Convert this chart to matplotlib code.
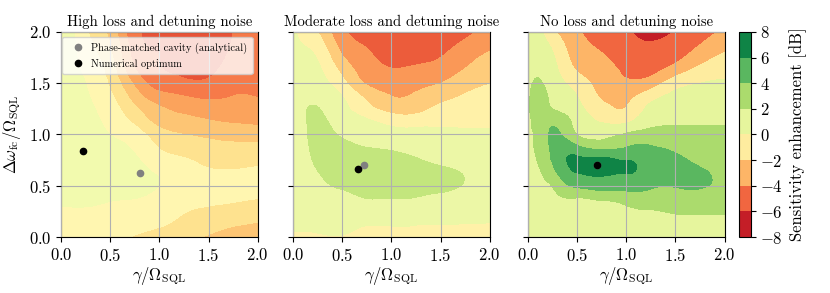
import numpy as np
import matplotlib
matplotlib.use("Agg")
import matplotlib.pyplot as plt
import matplotlib.tri as mtri
from matplotlib.colors import Normalize

plt.rcParams.update({
    "font.family": "serif",
    "font.serif": ["cmr10"],
    "mathtext.fontset": "cm",
    "axes.formatter.use_mathtext": True,
    "axes.unicode_minus": True,
    "font.size": 12,
})

# grid of the scan (gamma / Omega_SQL on x, detuning / Omega_SQL on y)
gamma = [0.0, 0.125, 0.25, 0.5, 0.75, 1.0, 1.25, 1.5, 1.75, 2.0]
detuning = [0.0, 0.125, 0.25, 0.375, 0.5, 0.625, 0.75, 0.875, 1.0,
            1.125, 1.25, 1.375, 1.5, 1.625, 1.75, 1.875, 2.0]

# sensitivity enhancement [dB], one list per gamma column (bottom -> top)
enh_high = [
    [-0.6, -0.4, -0.1, 0.15, 0.3, 0.4, 0.45, 0.5, 0.5, 0.5, 0.45, 0.4, 0.4, 0.35, 0.3, 0.25, 0.2],
    [-0.6, -0.4, -0.1, 0.15, 0.3, 0.45, 0.5, 0.5, 0.5, 0.45, 0.4, 0.35, 0.3, 0.2, 0.15, 0.1, 0.05],
    [-0.65, -0.4, -0.1, 0.15, 0.3, 0.45, 0.5, 0.45, 0.4, 0.3, 0.2, 0.1, 0.0, -0.2, -0.4, -0.6, -0.85],
    [-0.8, -0.5, -0.2, 0.05, 0.25, 0.35, 0.35, 0.2, 0.0, -0.25, -0.5, -0.8, -1.15, -1.45, -1.75, -2.0, -2.3],
    [-1.05, -0.7, -0.3, 0.0, 0.2, 0.25, 0.15, -0.15, -0.5, -1.2, -1.8, -2.5, -3.2, -3.9, -4.3, -4.55, -4.7],
    [-1.3, -0.9, -0.5, -0.2, -0.02, -0.1, -0.6, -1.05, -1.6, -2.3, -2.85, -3.65, -4.5, -4.95, -5.0, -5.05, -5.1],
    [-1.6, -1.25, -0.95, -0.6, -0.4, -0.5, -0.9, -1.45, -2.0, -2.6, -3.3, -4.0, -4.8, -5.15, -5.4, -5.6, -5.7],
    [-2.1, -1.6, -1.15, -0.8, -0.6, -0.85, -1.25, -1.7, -2.2, -2.9, -3.5, -4.2, -4.85, -5.15, -5.35, -5.5, -5.5],
    [-2.4, -1.9, -1.3, -0.9, -0.7, -0.9, -1.3, -1.75, -2.4, -3.1, -3.7, -4.0, -4.4, -4.7, -4.85, -4.95, -5.0],
    [-2.7, -2.1, -1.5, -1.0, -0.75, -0.85, -1.2, -1.7, -2.5, -3.2, -3.6, -4.05, -4.3, -4.5, -4.6, -4.7, -4.75],
]
enh_moderate = [
    [-0.3, 0.3, 0.6, 0.8, 0.9, 1.0, 1.0, 1.05, 1.1, 1.1, 1.05, 0.95, 0.85, 0.7, 0.5, 0.3, 0.15],
    [-0.3, 0.3, 0.6, 0.85, 1.0, 1.15, 1.25, 1.35, 1.4, 1.45, 1.45, 1.25, 1.0, 0.7, 0.35, -0.05, -0.5],
    [-0.2, 0.4, 0.8, 1.05, 1.2, 1.45, 1.7, 1.8, 1.8, 1.7, 1.55, 1.1, 0.65, 0.3, -0.1, -0.7, -1.55],
    [-0.1, 0.5, 0.95, 1.25, 1.65, 2.1, 2.2, 1.9, 1.35, 0.9, 0.45, 0.0, -1.0, -1.9, -2.8, -3.6, -4.2],
    [-0.4, 0.1, 1.0, 1.5, 2.0, 2.3, 2.2, 1.5, 0.9, 0.3, -1.0, -1.9, -3.2, -3.8, -4.2, -4.6, -5.0],
    [-0.45, 0.1, 0.9, 1.5, 1.95, 2.2, 2.0, 1.3, 0.6, -0.5, -2.0, -3.0, -3.7, -4.4, -4.9, -5.3, -5.6],
    [-0.5, 0.05, 0.85, 1.45, 1.85, 1.95, 1.6, 1.1, 0.5, -0.6, -2.0, -2.8, -3.5, -4.2, -4.9, -5.4, -5.8],
    [-0.55, 0.0, 0.8, 1.3, 1.7, 1.7, 1.3, 0.9, 0.4, -0.4, -1.2, -2.0, -3.0, -3.8, -4.5, -5.0, -5.3],
    [-0.6, -0.02, 0.7, 1.2, 1.45, 1.45, 1.2, 0.85, 0.35, -0.35, -0.9, -1.4, -2.1, -2.9, -3.5, -4.2, -4.8],
    [-0.65, -0.1, 0.6, 1.0, 1.2, 1.2, 1.05, 0.8, 0.3, -0.3, -0.7, -1.1, -1.55, -2.2, -2.7, -3.4, -4.2],
]
enh_none = [
    [1.0, 1.0, 1.1, 1.2, 1.3, 1.5, 1.6, 1.7, 1.75, 1.8, 1.8, 1.8, 1.7, 1.5, 1.2, 0.8, 0.4],
    [1.0, 1.05, 1.15, 1.3, 1.6, 1.9, 2.3, 2.6, 2.7, 2.7, 2.6, 2.4, 2.1, 1.8, 1.3, 0.7, 0.2],
    [1.0, 1.1, 1.3, 1.6, 2.1, 3.3, 4.2, 4.4, 4.3, 3.5, 2.0, 1.6, 1.2, 0.8, 0.3, -0.4, -1.5],
    [0.9, 1.0, 1.2, 1.9, 4.4, 6.0, 6.3, 4.5, 2.0, 1.3, 0.6, 0.0, -0.9, -2.1, -2.8, -3.3, -3.8],
    [0.9, 1.0, 1.3, 2.3, 4.9, 6.3, 6.5, 3.4, 1.4, -0.1, -1.3, -2.3, -2.9, -3.3, -3.8, -4.3, -4.8],
    [0.9, 1.1, 1.6, 2.8, 4.8, 6.05, 5.95, 4.0, 2.2, -0.3, -1.9, -2.6, -3.7, -4.3, -4.9, -5.4, -5.8],
    [1.0, 1.2, 1.9, 3.0, 4.3, 5.0, 5.1, 4.2, 2.7, 1.5, 0.6, -0.9, -3.0, -4.6, -5.4, -5.9, -6.3],
    [1.1, 1.4, 2.2, 3.2, 4.1, 4.6, 4.4, 3.6, 2.6, 1.8, 1.2, 0.5, -0.9, -3.0, -4.6, -5.4, -5.9],
    [1.2, 1.5, 2.2, 3.2, 4.2, 4.3, 3.6, 3.0, 2.5, 1.8, 1.2, 0.6, 0.0, -1.4, -2.8, -4.0, -4.8],
    [1.2, 1.5, 2.2, 3.0, 3.4, 3.5, 3.3, 2.9, 2.4, 1.8, 1.2, 0.7, 0.2, -0.6, -1.6, -2.6, -3.8],
]

# optimum positions (gamma, detuning)
analytical = [(0.80, 0.62), (0.72, 0.70), (0.70, 0.70)]
numerical = [(0.22, 0.84), (0.66, 0.66), (0.70, 0.70)]

titles = ["High loss and detuning noise",
          "Moderate loss and detuning noise",
          "No loss and detuning noise"]
levels_high = [-6, -5, -4, -3, -2, -1, 0, 1]
levels_moderate = [-6, -4.5, -3, -1.5, 0, 1.5, 3]
levels_none = [-8, -6, -4, -2, 0, 2, 4, 6, 8]

fig = plt.figure(figsize=(8.3, 2.93), dpi=100)
lefts = [0.0735, 0.353, 0.636]
axes = [fig.add_axes([l, 0.191, 0.237, 0.700]) for l in lefts]
norm = Normalize(vmin=-8, vmax=8)

G, D = np.meshgrid(gamma, detuning)
triang = mtri.Triangulation(G.ravel(), D.ravel())
refiner = mtri.UniformTriRefiner(triang)

fields = [enh_high, enh_moderate, enh_none]
all_levels = [levels_high, levels_moderate, levels_none]
cs_last = None
for i, ax in enumerate(axes):
    z = np.array(fields[i]).T.ravel()
    tri_f, z_f = refiner.refine_field(z, subdiv=4)
    lv = all_levels[i]
    z_f = np.clip(z_f, lv[0] + 1e-3, lv[-1] - 1e-3)
    cs = ax.tricontourf(tri_f, z_f, levels=lv, cmap="RdYlGn", norm=norm)
    cs_last = cs

    ax.plot(*analytical[i], "o", color="gray", ms=4.5, zorder=4,
            label="Phase-matched cavity (analytical)")
    ax.plot(*numerical[i], "o", color="black", ms=4.5, zorder=5,
            label="Numerical optimum")

    ax.set_xlim(0, 2)
    ax.set_ylim(0, 2)
    ax.set_xticks([0, 0.5, 1.0, 1.5, 2.0])
    ax.set_yticks([0, 0.5, 1.0, 1.5, 2.0])
    ax.grid(True, color="#b0b0b0", lw=0.8)
    ax.set_axisbelow(False)
    ax.set_title(titles[i], fontsize=10.6, pad=4)
    ax.set_xlabel(r"$\gamma/\Omega_{\mathrm{SQL}}$", labelpad=1)
    if i == 0:
        ax.set_ylabel(r"$\Delta\omega_{\mathrm{fc}}/\Omega_{\mathrm{SQL}}$")
        ax.legend(loc="upper right", fontsize=7.5, framealpha=0.8,
                  handletextpad=0.3, borderpad=0.5)
    else:
        ax.set_yticklabels([])

cax = fig.add_axes([0.890, 0.191, 0.0145, 0.700])
cb = fig.colorbar(cs_last, cax=cax, ticks=levels_none)
cb.set_label("Sensitivity enhancement [dB]")

fig.savefig("out.png", dpi=100)
